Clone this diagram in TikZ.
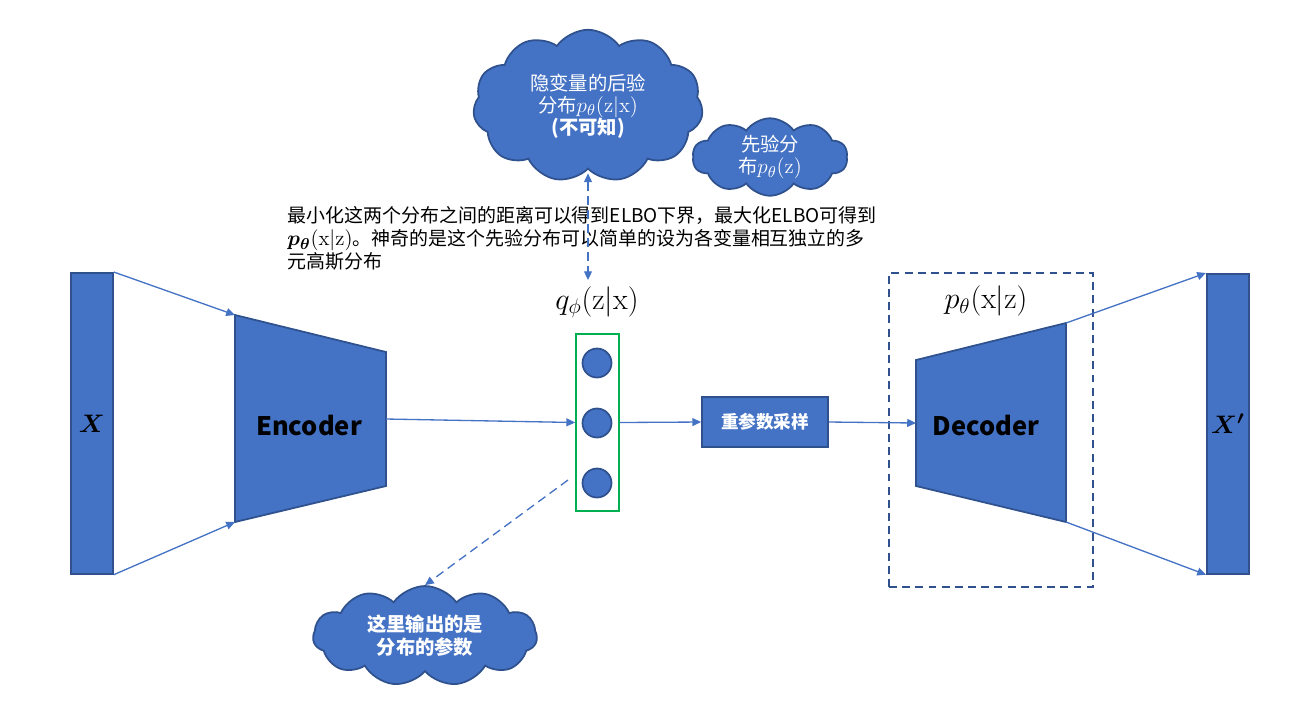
\documentclass[tikz,border=0pt]{standalone}
\usepackage{amsmath}
\usepackage[no-math]{fontspec}
\setmainfont{Noto Sans CJK SC}
\usetikzlibrary{positioning}
\usetikzlibrary{shapes.symbols}
\usetikzlibrary{arrows.meta}
\definecolor{boxblue}{HTML}{4472C4}
\definecolor{edgeblue}{HTML}{2F528F}
\definecolor{boxgreen}{HTML}{00B050}

\tikzset{
  flow/.style={draw=boxblue, line width=0.75pt, -{Triangle[length=5pt,width=4.5pt]}},
  dflow/.style={flow, dash pattern=on 5pt off 3pt},
  bar/.style={draw=edgeblue, fill=boxblue, line width=1pt, inner sep=0pt},
  puff/.style={cloud, cloud puffs=11, cloud puff arc=110, cloud ignores aspect, draw=edgeblue, fill=boxblue,
               line width=1pt, text=white, align=center, inner sep=0pt},
  unit/.style={circle, draw=edgeblue, fill=boxblue, line width=1pt, minimum size=0.58cm, inner sep=0pt},
}
\newcommand{\inmath}[1]{{\fontsize{12.5}{12}\selectfont$#1$}}

\begin{document}
\begin{tikzpicture}[x=0.02cm, y=-0.02cm]

\useasboundingbox (0,0) rectangle (1300,725);

%---------------------------------------
% Input and encoder
%---------------------------------------
\node[bar, anchor=north west, minimum width=0.84cm, minimum height=6.02cm] (x) at (70,272)
  {\fontsize{15}{18}\selectfont $\boldsymbol{X}$};

\coordinate (enc-tl) at (235,315);
\coordinate (enc-tr) at (386,352);
\coordinate (enc-br) at (386,486);
\coordinate (enc-bl) at (235,522);
\coordinate (enc-r)  at (386,419);
\draw[bar] (enc-tl) -- (enc-tr) -- (enc-br) -- (enc-bl) -- cycle;
\node[font=\fontsize{14.5}{17}\selectfont\bfseries] (enc) at (309,425) {Encoder};

\draw[flow] (x.north east) -- (enc-tl);
\draw[flow] (x.south east) -- (enc-bl);

%---------------------------------------
% Latent units q_phi(z|x)
%---------------------------------------
\node[draw=boxgreen, line width=1pt, minimum width=0.86cm, minimum height=3.54cm] (zbox) at (597.5,422.5) {};
\node[unit] (z1) at (597,363) {};
\node[unit] (z2) at (597,423) {};
\node[unit] (z3) at (597,483) {};
\node[font=\fontsize{18}{20}\selectfont] (qlab) at (597,302) {$q_\phi(\mathrm{z}|\mathrm{x})$};

\draw[flow] (enc-r) -- (zbox.west);

% ---- reparameterisation ----
\node[draw=edgeblue, fill=boxblue, line width=1pt, minimum width=2.52cm, minimum height=1cm,
      text=white, font=\fontsize{10}{12}\selectfont\bfseries] (rep) at (765,422) {重参数采样};
\draw[flow] (zbox.east) -- (rep.west);

%---------------------------------------
% Decoder and output
%---------------------------------------
\node[draw=edgeblue, line width=1pt, dash pattern=on 4.5pt off 3pt,
      minimum width=4.08cm, minimum height=6.28cm] (dbox) at (991,430) {};
\node[font=\fontsize{18}{20}\selectfont] (plab) at (986,301) {$p_\theta(\mathrm{x}|\mathrm{z})$};

\coordinate (dec-tl) at (916,360);
\coordinate (dec-tr) at (1066,323);
\coordinate (dec-br) at (1066,522);
\coordinate (dec-bl) at (916,486);
\coordinate (dec-l)  at (916,423);
\draw[bar] (dec-tl) -- (dec-tr) -- (dec-br) -- (dec-bl) -- cycle;
\node[font=\fontsize{14.5}{17}\selectfont\bfseries] (dec) at (986,425) {Decoder};

\draw[flow] (rep.east) -- (dec-l);

\node[bar, anchor=north west, minimum width=0.84cm, minimum height=6.0cm] (xp) at (1206,273)
  {\fontsize{15}{18}\selectfont $\boldsymbol{X'}$};

\draw[flow] (dec-tr) -- (xp.north west);
\draw[flow] (dec-br) -- (xp.south west);

%---------------------------------------
% Clouds and notes
%---------------------------------------
\node[puff, minimum width=4.6cm, minimum height=3.05cm, font=\fontsize{11}{12.5}\selectfont] (post) at (588,106)
  {隐变量的后验\\分布\inmath{p_\theta(\mathrm{z}|\mathrm{x})}\\\textbf{(不可知)}};

\node[puff, cloud puffs=10, minimum width=3.1cm, minimum height=1.55cm, font=\fontsize{11}{12.5}\selectfont] (prior) at (770,157)
  {先验分\\布\inmath{p_\theta(\mathrm{z})}};

\node[puff, minimum width=4.48cm, minimum height=2.0cm, font=\fontsize{11}{13}\selectfont\bfseries] (pcloud) at (425,636)
  {这里输出的是\\分布的参数};

\node[anchor=north west, inner sep=0pt, align=left, font=\fontsize{10.8}{13.2}\selectfont] (note) at (287,206)
  {最小化这两个分布之间的距离可以得到ELBO下界，最大化ELBO可得到\\
   \inmath{\boldsymbol{p_\theta}(\mathrm{x}|\mathrm{z})}。神奇的是这个先验分布可以简单的设为各变量相互独立的多\\
   元高斯分布};

% dashed links
\draw[dflow, {Triangle[length=5pt,width=4.5pt]}-{Triangle[length=5pt,width=4.5pt]}]
  ([yshift=-2pt]post.south) -- (post.south |- qlab.north);
\coordinate (dstart) at (568,480);
\draw[dflow] (dstart) -- (pcloud.north);

\end{tikzpicture}
\end{document}
